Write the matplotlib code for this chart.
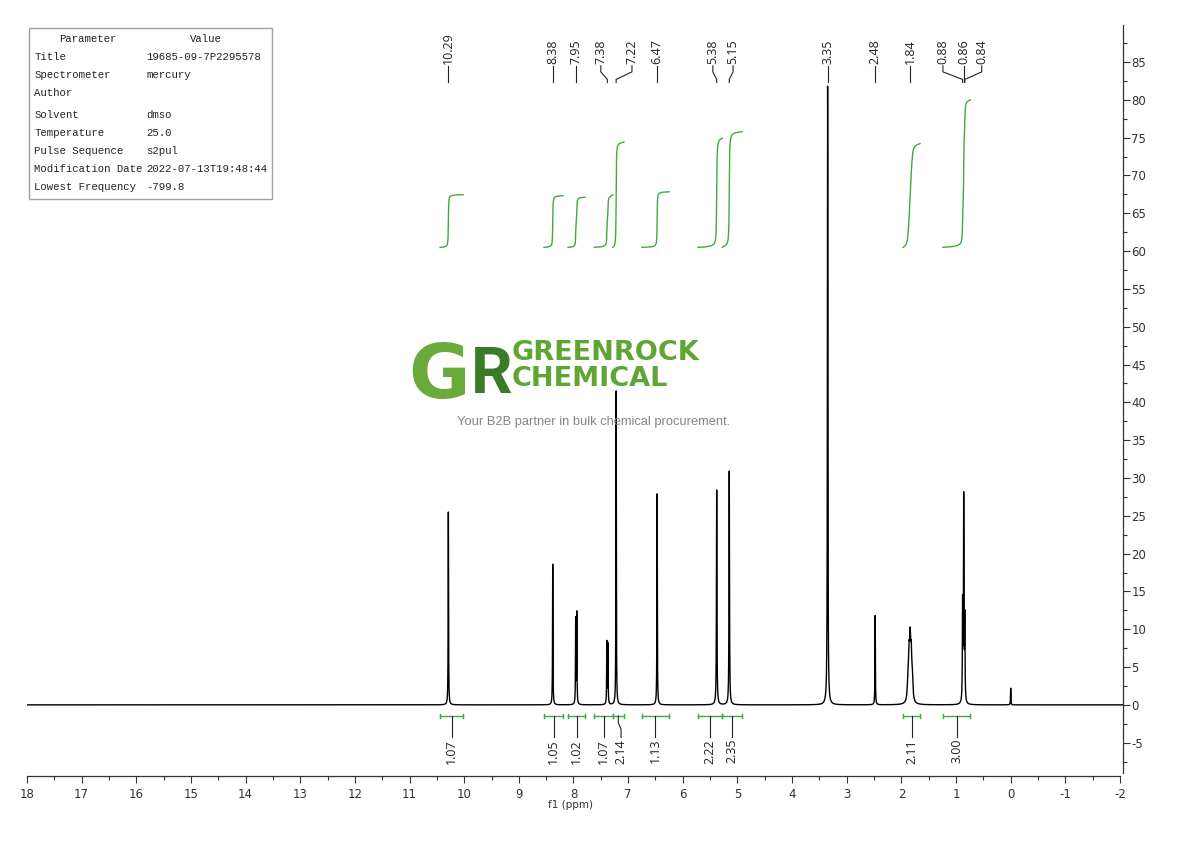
"""1H NMR spectrum (dmso) with peak picking, integrals and a watermark."""
import matplotlib

matplotlib.use("Agg")
import matplotlib.pyplot as plt
import numpy as np
from matplotlib.patches import Rectangle
from matplotlib.ticker import MultipleLocator, FormatStrFormatter

W_PX, H_PX = 1190, 841

# acquisition parameters (table, top left)
PARAM_NAMES = ["Title", "Spectrometer", "Author", "Solvent", "Temperature",
               "Pulse Sequence", "Modification Date", "Lowest Frequency"]
PARAM_VALUES = ["19685-09-7P2295578", "mercury", "", "dmso", "25.0",
                "s2pul", "2022-07-13T19:48:44", "-799.8"]

# individual lines of the spectrum
LINE_PPM = [10.29, 8.38, 7.96, 7.94, 7.39, 7.37, 7.22, 6.47, 5.38, 5.15, 3.35,
            2.48, 1.88, 1.86, 1.84, 1.82, 1.80, 0.88, 0.86, 0.84, 0.00]
LINE_HEIGHT = [25.5, 18.6, 11.2, 12.0, 8.2, 7.9, 41.5, 27.9, 28.4, 30.9, 81.8,
               11.8, 2.7, 5.4, 7.0, 5.4, 2.7, 12.8, 26.8, 10.8, 2.2]
LINE_HWHM = [0.004, 0.004, 0.004, 0.004, 0.004, 0.004, 0.004, 0.004, 0.005, 0.005,
             0.005, 0.004, 0.012, 0.012, 0.012, 0.012, 0.012, 0.005, 0.005, 0.005,
             0.004]

# peak picking labels
PEAK_PPM = [10.29, 8.38, 7.95, 7.38, 7.22, 6.47, 5.38, 5.15, 3.35, 2.48, 1.84,
            0.88, 0.86, 0.84]
PEAK_LABEL_AT = [10.29, 8.38, 7.95, 7.50, 6.93, 6.47, 5.45, 5.08, 3.35, 2.48, 1.84,
                 1.24, 0.86, 0.53]

# integrals
INT_FROM = [10.44, 8.54, 8.10, 7.62, 7.28, 6.75, 5.72, 5.28, 1.97, 1.24]
INT_TO = [10.02, 8.19, 7.79, 7.28, 7.08, 6.25, 5.28, 4.92, 1.66, 0.74]
INT_VALUE = [1.07, 1.05, 1.02, 1.07, 2.14, 1.13, 2.22, 2.35, 2.11, 3.00]
INT_LABEL_AT = [10.23, 8.365, 7.945, 7.45, 7.13, 6.50, 5.50, 5.10, 1.815, 0.99]

INT_BASE = 60.5      # where every integral curve starts
INT_SCALE = 6.5      # curve rise per unit of integral
GREEN = "#3daa3d"
INK = "#222222"
TICK_FONT = ["Liberation Sans Narrow", "DejaVu Sans"]

plt.rcParams["axes.unicode_minus"] = False


def fx(px):
    return px / W_PX


def fy(py):
    return 1 - py / H_PX


# spectrum from the line list
ppm = np.linspace(18, -2.06, 60181)
spec = np.zeros_like(ppm)
for c, h, g in zip(LINE_PPM, LINE_HEIGHT, LINE_HWHM):
    spec += h * g ** 2 / ((ppm - c) ** 2 + g ** 2)

fig = plt.figure(figsize=(W_PX / 100, H_PX / 100), dpi=100)
ax = fig.add_axes([fx(27), fy(775.5), fx(1123) - fx(27), fy(25) - fy(775.5)])
ax.set_xlim(18, -2.055)
ax.set_ylim(-9.34, 89.9)
ax.patch.set_alpha(0)

ax.plot(ppm, spec, color="black", lw=1.0, zorder=3)

# integral curves + brackets + values
for lo, hi, val, lab in zip(INT_TO, INT_FROM, INT_VALUE, INT_LABEL_AT):
    m = (ppm <= hi) & (ppm >= lo)
    cum = np.cumsum(spec[m])
    ax.plot(ppm[m], INT_BASE + val * INT_SCALE * cum / cum[-1], color=GREEN, lw=1.0)

    yb = -1.46
    ax.plot([hi, lo], [yb, yb], color=GREEN, lw=1.0)
    ax.plot([hi, hi], [yb - 0.3, yb + 0.3], color=GREEN, lw=1.0)
    ax.plot([lo, lo], [yb - 0.3, yb + 0.3], color=GREEN, lw=1.0)
    mid = (hi + lo) / 2
    ax.plot([mid, mid, lab, lab], [yb, -2.4, -3.2, -4.3], color=INK, lw=0.8)
    ax.text(lab, -4.5, f"{val:.2f}", rotation=90, ha="center", va="top",
            fontsize=9, family="Open Sans", color=INK)

# peak labels with connectors
for pk, lab in zip(PEAK_PPM, PEAK_LABEL_AT):
    ax.plot([lab, lab, pk, pk], [84.5, 83.7, 82.7, 82.3], color=INK, lw=0.8)
    ax.text(lab, 84.7, f"{pk:.2f}", rotation=90, ha="center", va="bottom",
            fontsize=9, family="Open Sans", color=INK)

# axes styling: bottom ppm scale and right intensity scale
for side in ["top", "left"]:
    ax.spines[side].set_visible(False)
ax.spines["bottom"].set_bounds(-2, 18)
ax.spines["right"].set_bounds(-9.0, 89.9)
for side in ["bottom", "right"]:
    ax.spines[side].set_color("#333333")
    ax.spines[side].set_linewidth(0.9)

ax.yaxis.tick_right()
ax.xaxis.set_major_locator(MultipleLocator(1))
ax.xaxis.set_minor_locator(MultipleLocator(0.5))
ax.yaxis.set_major_locator(MultipleLocator(5))
ax.yaxis.set_minor_locator(MultipleLocator(2.5))
ax.xaxis.set_major_formatter(FormatStrFormatter("%d"))
ax.yaxis.set_major_formatter(FormatStrFormatter("%d"))
ax.tick_params(which="both", direction="out", color="#333333", width=0.8,
               labelsize=8.5, labelcolor="#333333")
ax.tick_params(which="major", length=5)
ax.tick_params(which="minor", length=3)
ax.tick_params(axis="x", pad=4)
ax.tick_params(axis="y", pad=1)
for t in ax.get_xticklabels() + ax.get_yticklabels():
    t.set_family(TICK_FONT)
ax.set_xlabel("f1 (ppm)", fontsize=7.5, color="#333333", family=TICK_FONT)
ax.xaxis.set_label_coords((571 - 27) / 1096, -0.032)

# parameter table
fig.patches.append(Rectangle((fx(29.3), fy(199)), fx(272.3) - fx(29.3), fy(28.3) - fy(199),
                             transform=fig.transFigure, fill=False,
                             edgecolor="#a0a0a0", lw=1.0))
tkw = dict(fontsize=7.7, family="Liberation Mono", color="#222222", va="center")
fig.text(fx(87.7), fy(39.3), "Parameter", ha="center", **tkw)
fig.text(fx(205.7), fy(39.3), "Value", ha="center", **tkw)
row_y = [56.7, 75, 92.7, 115, 133.3, 150.7, 169, 186.7]
for name, value, y in zip(PARAM_NAMES, PARAM_VALUES, row_y):
    fig.text(fx(34.3), fy(y), name, ha="left", **tkw)
    fig.text(fx(146.5), fy(y), value, ha="left", **tkw)

# watermark logo
fig.text(fx(408), fy(398), "G", fontsize=54, weight="bold", color="#6aaa3a",
         family="DejaVu Sans", va="baseline", ha="left", zorder=5)
fig.text(fx(471), fy(393), "R", fontsize=47, weight="bold", color="#3a7b27",
         family="Roboto", va="baseline", ha="left", zorder=6)
fig.text(fx(512), fy(386), "GREENROCK\nCHEMICAL", fontsize=19.5, weight="bold",
         color="#5fa532", family="DejaVu Sans", va="baseline", ha="left",
         linespacing=1.0, zorder=6)
fig.text(fx(594), fy(422.5), "Your B2B partner in bulk chemical procurement.",
         fontsize=9.3, family="Liberation Sans", color="#858585",
         ha="center", va="center", zorder=2)

fig.savefig("out.png", dpi=100)
